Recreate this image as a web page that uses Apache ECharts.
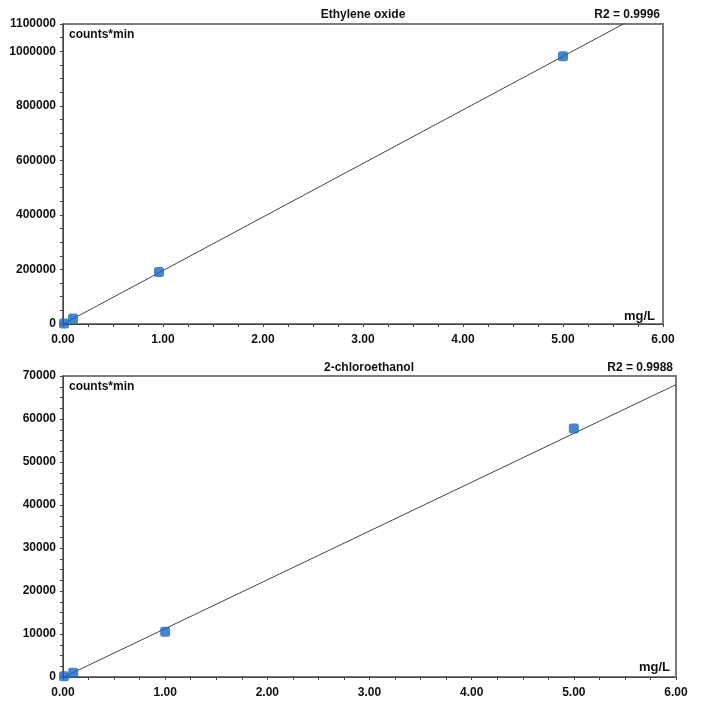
<!DOCTYPE html>
<html><head><meta charset="utf-8">
<script src="https://cdn.jsdelivr.net/npm/echarts@6/dist/echarts.min.js"></script>
<style>html,body{margin:0;padding:0;background:#fff}#c{width:707px;height:708px}</style>
</head><body><div id="c"></div>
<script>
// Ethylene oxide calibration
const eoConc = [0.01, 0.1, 0.96, 5.0];
const eoArea = [1500, 20000, 191000, 982000];
const eoFitX = [0, 6];
const eoFitY = [-500, 1177900];
// 2-chloroethanol calibration
const ceConc = [0.01, 0.1, 1.0, 5.0];
const ceArea = [200, 1000, 10500, 57800];
const ceFitX = [0, 6];
const ceFitY = [-100, 68000];
// tick labels
const xMajor = [0, 1, 2, 3, 4, 5, 6];
const eoYLabels = [0, 200000, 400000, 600000, 800000, 1000000, 1100000];
const ceYLabels = [0, 10000, 20000, 30000, 40000, 50000, 60000, 70000];
const titles = ['Ethylene oxide', '2-chloroethanol'];
const r2 = ['R2 = 0.9996', 'R2 = 0.9988'];

const font = '"Liberation Sans", Arial, sans-serif';
const chart = echarts.init(document.getElementById('c'));

function xAxis(idx) {
  return {
    gridIndex: idx, type: 'value', min: 0, max: 6, interval: 0.25, offset: 2,
    axisLine: {show: true, lineStyle: {color: '#444', width: 1}},
    axisTick: {show: true, length: 3, inside: false, lineStyle: {color: '#444'}},
    splitLine: {show: false},
    axisLabel: {
      interval: 0, margin: 8, color: '#111', fontFamily: font, fontWeight: 'bold', fontSize: 12,
      formatter: v => xMajor.includes(v) ? v.toFixed(2) : ''
    }
  };
}
function yAxis(idx, max, step, labels) {
  return {
    gridIndex: idx, type: 'value', min: 0, max: max, interval: step, offset: 2,
    axisLine: {show: true, lineStyle: {color: '#444', width: 1}},
    axisTick: {show: true, length: 3, lineStyle: {color: '#444'}},
    splitLine: {show: false},
    axisLabel: {
      interval: 0, margin: 5, color: '#111', fontFamily: font, fontWeight: 'bold', fontSize: 12,
      showMinLabel: true, showMaxLabel: true,
      formatter: v => labels.includes(v) ? String(v) : ''
    }
  };
}
function txt(x, y, s, align, size) {
  return {type: 'text', x: x, y: y, style: {text: s, textAlign: align, textVerticalAlign: 'middle',
    fill: '#111', font: 'bold ' + size + 'px ' + font}};
}
const pt = {color: '#1766c0'};
chart.setOption({
  animation: false,
  grid: [
    {left: 63, right: 44, top: 24, height: 300, show: true, borderColor: '#7a7a7a', borderWidth: 2, backgroundColor: 'transparent'},
    {left: 63, right: 31, top: 376, height: 301, show: true, borderColor: '#7a7a7a', borderWidth: 2, backgroundColor: 'transparent'}
  ],
  xAxis: [xAxis(0), xAxis(1)],
  yAxis: [yAxis(0, 1100000, 50000, eoYLabels), yAxis(1, 70000, 2500, ceYLabels)],
  series: [
    {type: 'line', xAxisIndex: 0, yAxisIndex: 0, data: eoFitX.map((x, i) => [x, eoFitY[i]]),
     showSymbol: false, symbol: 'none', lineStyle: {color: '#444', width: 1}, clip: true, z: 2},
    {type: 'scatter', xAxisIndex: 0, yAxisIndex: 0, data: eoConc.map((x, i) => [x, eoArea[i]]),
     symbol: 'roundRect', symbolSize: 10, itemStyle: pt, z: 3},
    {type: 'line', xAxisIndex: 1, yAxisIndex: 1, data: ceFitX.map((x, i) => [x, ceFitY[i]]),
     showSymbol: false, symbol: 'none', lineStyle: {color: '#444', width: 1}, clip: true, z: 2},
    {type: 'scatter', xAxisIndex: 1, yAxisIndex: 1, data: ceConc.map((x, i) => [x, ceArea[i]]),
     symbol: 'roundRect', symbolSize: 10, itemStyle: pt, z: 3}
  ],
  graphic: [
    txt(363, 15, titles[0], 'center', 12),
    txt(660, 15, r2[0], 'right', 12),
    txt(69, 35, 'counts*min', 'left', 12),
    txt(655, 316, 'mg/L', 'right', 13),
    txt(369, 368, titles[1], 'center', 12),
    txt(673, 368, r2[1], 'right', 12),
    txt(69, 387, 'counts*min', 'left', 12),
    txt(670, 667, 'mg/L', 'right', 13)
  ]
});
</script></body></html>
